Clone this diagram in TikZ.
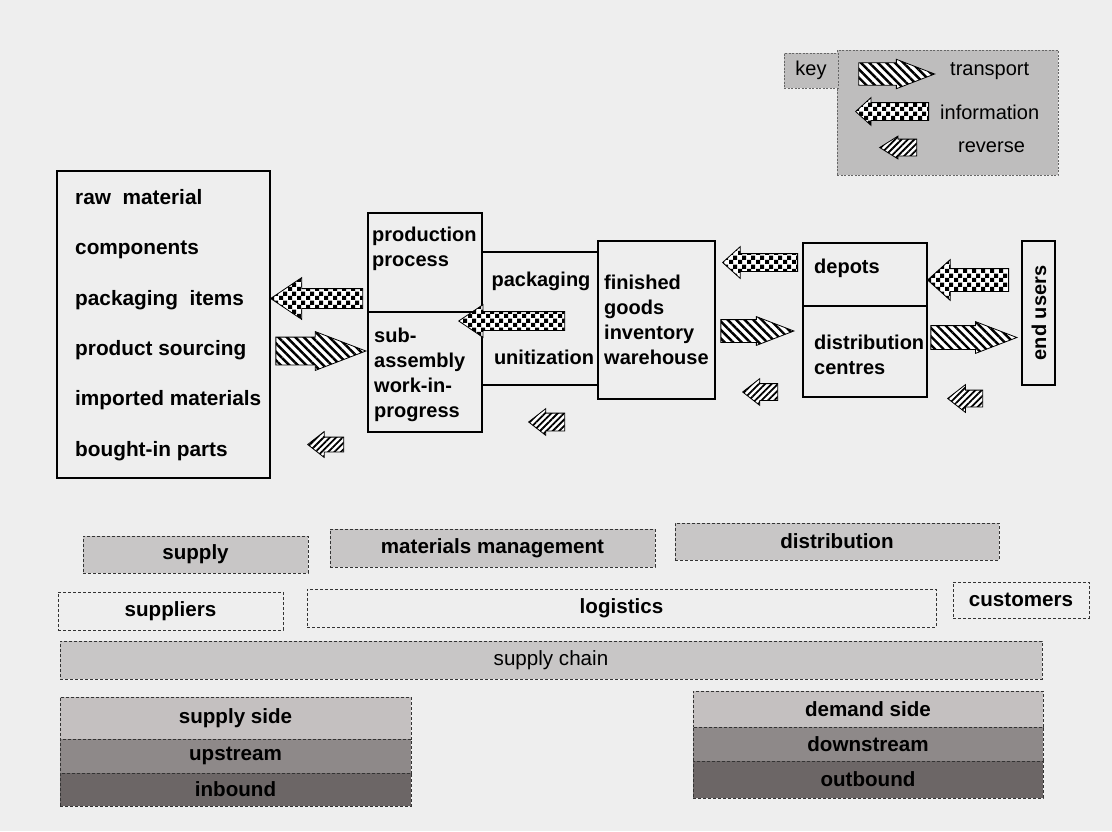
\documentclass[tikz,border=0pt]{standalone}
\usepackage{fontspec}
\setmainfont{Liberation Sans}
\usepackage{tikz}
\usetikzlibrary{positioning,shapes.arrows,patterns,patterns.meta}

\definecolor{paper}{RGB}{238,238,238}
\definecolor{bandgray}{RGB}{200,198,198}
\definecolor{keygray}{RGB}{190,189,189}
\definecolor{sidelight}{RGB}{196,192,192}
\definecolor{sidemid}{RGB}{142,137,137}
\definecolor{sidedark}{RGB}{108,102,102}

% checker squares for the information arrows
\pgfdeclarepatternformonly{infochecker}{\pgfpointorigin}{\pgfqpoint{9pt}{9pt}}{\pgfqpoint{9pt}{9pt}}{%
  \pgfpathrectangle{\pgfpointorigin}{\pgfqpoint{4.5pt}{4.5pt}}%
  \pgfpathrectangle{\pgfqpoint{4.5pt}{4.5pt}}{\pgfqpoint{4.5pt}{4.5pt}}%
  \pgfusepath{fill}}

\begin{document}
\begin{tikzpicture}[
  x=1pt, y=-1pt,
  blk/.style={draw, line width=1.2pt, inner sep=0pt, outer sep=0pt, anchor=north west},
  lbl/.style={font=\fontsize{20}{25}\selectfont\bfseries, inner sep=0pt, align=left},
  keytxt/.style={font=\fontsize{20}{24}\selectfont, inner sep=0pt, anchor=west},
  keypanel/.style={draw=black!60, dash pattern=on 2pt off 1.5pt, line width=0.6pt, fill=keygray,
    inner sep=0pt, outer sep=0pt, anchor=north west},
  band/.style={draw=black!80, dash pattern=on 3pt off 2pt, line width=0.9pt, inner sep=0pt, outer sep=0pt,
    anchor=north west, font=\fontsize{20.6}{24}\selectfont\bfseries},
  side/.style={band, fill=sidelight, minimum width=351pt},
  arr/.style={single arrow, draw, line width=0.8pt, inner xsep=0pt, minimum width=0pt,
    preaction={fill=white}, anchor=tip},
  sz/.style n args={3}{minimum height=#1, inner ysep=#2, single arrow head extend=#3},
  trarrow/.style={arr, pattern={Lines[angle=-45,distance=6pt,line width=2.4pt]}, single arrow tip angle=42},
  infoarrow/.style={arr, pattern=infochecker, shape border rotate=180, single arrow tip angle=84},
  revarrow/.style={arr, pattern={Lines[angle=45,distance=4.5pt,line width=1.8pt]}, shape border rotate=180,
    single arrow tip angle=76}
]
\useasboundingbox (0,0) rectangle (1112,831);
\fill[paper] (0,0) rectangle (1112,831);

% key
\node[keypanel, minimum width=221pt, minimum height=125pt] (keybox) at (837,50) {};
\node[keypanel, minimum width=54pt, minimum height=35pt, font=\fontsize{20}{24}\selectfont] (keytag) at (784,53) {key};
\node[trarrow, sz={76pt}{10pt}{3.5pt}] (keytr) at (938,74) {};
\node[keytxt] (keytrtxt) at (950,71) {transport};
\node[infoarrow, sz={73pt}{8.5pt}{5pt}] (keyinfo) at (855,111.5) {};
\node[keytxt] (keyinfotxt) at (940,112) {information};
\node[revarrow, sz={37pt}{7.5pt}{3pt}, single arrow tip angle=64] (keyrev) at (878,147.5) {};
\node[keytxt] (keyrevtxt) at (958,147) {reverse};

% chain boxes
\node[blk, minimum width=213pt, minimum height=307pt] (srcbox) at (57,171) {};
\node[blk, minimum width=114pt, minimum height=219pt] (prodbox) at (368,213) {};
\node[blk, minimum width=116pt, minimum height=133pt] (packbox) at (482,252) {};
\node[blk, minimum width=117pt, minimum height=158pt] (fgbox) at (598,241) {};
\node[blk, minimum width=124pt, minimum height=154pt] (depbox) at (803,243) {};
\node[blk, minimum width=33pt, minimum height=144pt] (userbox) at (1022,241) {};
\coordinate (prodcut) at (0,312);
\coordinate (depcut) at (0,306);
\draw[line width=1.2pt] (prodbox.west |- prodcut) -- (prodbox.east |- prodcut);
\draw[line width=1.2pt] (depbox.west |- depcut) -- (depbox.east |- depcut);

\node[lbl, anchor=west, font=\fontsize{20.8}{50.4}\selectfont\bfseries] (srclist) at (75,325)
  {raw\ \ material\\components\\packaging\ \ items\\product sourcing\\imported materials\\bought-in parts};
\node[lbl, anchor=west] (prodtxt) at (372,249) {production\\process};
\node[lbl, anchor=west] (subtxt) at (374,375) {sub-\\assembly\\work-in-\\progress};
\node[lbl] (packtxt) at (541,281) {packaging};
\node[lbl] (unittxt) at (544,357) {unitization};
\node[lbl, anchor=west] (fgtxt) at (604,320) {finished\\goods\\inventory\\warehouse};
\node[lbl, anchor=west] (deptxt) at (814,268) {depots};
\node[lbl, anchor=west] (dctxt) at (814,355) {distribution\\centres};
\node[lbl, rotate=90] (usertxt) at (1039,313) {end users};

% flows
\node[infoarrow, sz={92pt}{9.5pt}{11pt}, single arrow tip angle=68] (info1) at (270,298.5) {};
\node[trarrow, sz={90pt}{13.5pt}{5.5pt}] (tr1) at (367,351) {};
\node[revarrow, sz={36pt}{7pt}{5.5pt}] (rev1) at (307,444.5) {};
\node[infoarrow, sz={106pt}{9pt}{7pt}, single arrow tip angle=68] (info2) at (458,321) {};
\node[revarrow, sz={36pt}{8.5pt}{4.5pt}] (rev2) at (528,422) {};
\node[infoarrow, sz={75pt}{8.5pt}{7pt}] (info3) at (722,262.5) {};
\node[trarrow, sz={73pt}{11pt}{3pt}] (tr2) at (795,331) {};
\node[revarrow, sz={35pt}{8pt}{5pt}] (rev3) at (742,392) {};
\node[infoarrow, sz={81pt}{11pt}{9pt}] (info4) at (927,280) {};
\node[trarrow, sz={86pt}{11.5pt}{4pt}] (tr3) at (1018,337.5) {};
\node[revarrow, sz={35pt}{8pt}{5.5pt}] (rev4) at (947,398.5) {};

% scope bands
\node[band, fill=bandgray, minimum width=225pt, minimum height=37pt] (supply) at (83,536) {supply};
\node[band, fill=bandgray, minimum width=325pt, minimum height=38pt] (matman) at (330,529) {materials management};
\node[band, fill=bandgray, minimum width=324pt, minimum height=37pt] (distrib) at (675,523) {distribution};
\node[band, minimum width=225pt, minimum height=38pt] (suppliers) at (58,592) {suppliers};
\node[band, minimum width=629pt, minimum height=38pt] (logistics) at (307,589) {logistics};
\node[band, minimum width=136pt, minimum height=36pt] (customers) at (953,582) {customers};
\node[band, fill=bandgray, minimum width=982pt, minimum height=38pt, font=\fontsize{20.6}{24}\selectfont] (chain) at (60,641) {supply chain};

\node[side, minimum height=42pt] (sside) at (60,697) {supply side};
\node[side, fill=sidemid, minimum height=34pt, below=0pt of sside] (upstr) {upstream};
\node[side, fill=sidedark, minimum height=33pt, below=0pt of upstr] (inbd) {inbound};
\node[side, minimum width=350pt, minimum height=36pt] (dside) at (693,691) {demand side};
\node[side, fill=sidemid, minimum width=350pt, minimum height=34pt, below=0pt of dside] (downstr) {downstream};
\node[side, fill=sidedark, minimum width=350pt, minimum height=37pt, below=0pt of downstr] (outbd) {outbound};
\end{tikzpicture}
\end{document}
